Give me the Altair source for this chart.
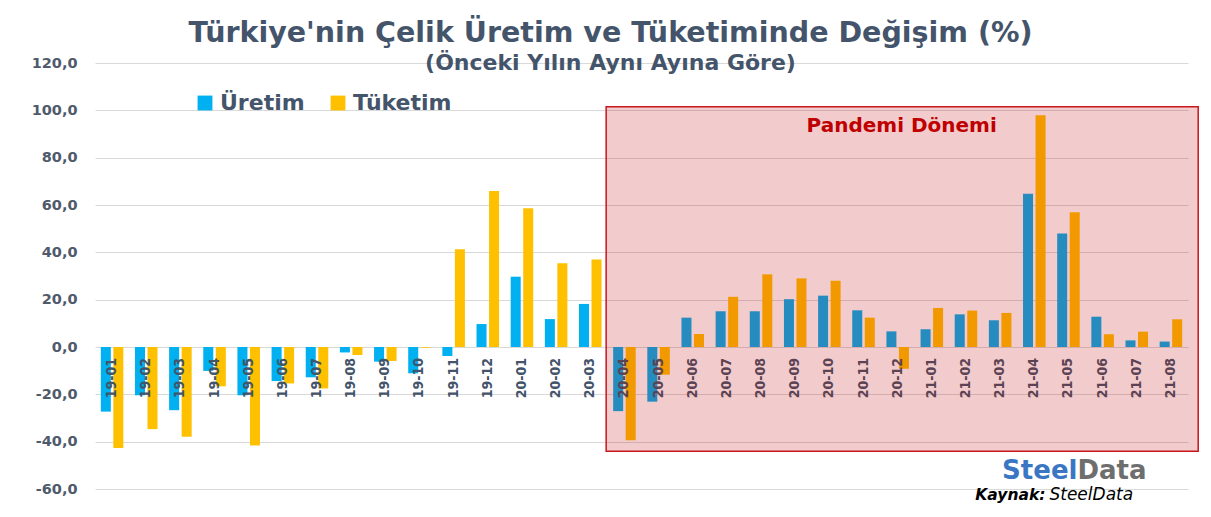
import altair as alt
import pandas as pd

months = ["19-01", "19-02", "19-03", "19-04", "19-05", "19-06", "19-07", "19-08",
          "19-09", "19-10", "19-11", "19-12", "20-01", "20-02", "20-03", "20-04",
          "20-05", "20-06", "20-07", "20-08", "20-09", "20-10", "20-11", "20-12",
          "21-01", "21-02", "21-03", "21-04", "21-05", "21-06", "21-07", "21-08"]
uretim = [-27.3, -20.4, -26.7, -10.1, -20.4, -14.4, -12.8, -2.3, -6.2, -11.1, -3.8, 9.7,
          29.7, 11.8, 18.2, -27.1, -23.1, 12.4, 15.1, 15.1, 20.2, 21.7, 15.5, 6.6,
          7.5, 13.8, 11.3, 64.8, 48.0, 12.8, 2.8, 2.3]
tuketim = [-42.7, -34.7, -37.9, -16.6, -41.6, -15.4, -17.5, -3.4, -5.9, -0.3, 41.3, 65.9,
           58.6, 35.4, 37.0, -39.4, -11.7, 5.5, 21.2, 30.7, 29.0, 28.0, 12.4, -9.2,
           16.5, 15.4, 14.4, 97.9, 56.9, 5.4, 6.5, 11.7]
series = ["Üretim", "Tüketim"]
colors = ["#00B0F0", "#FFC000"]
y_ticks = [-60, -40, -20, 0, 20, 40, 60, 80, 100, 120]

rows = []
for m, u, t in zip(months, uretim, tuketim):
    rows.append({"ay": m, "seri": series[0], "deger": u})
    rows.append({"ay": m, "seri": series[1], "deger": t})
df = pd.DataFrame(rows)
lab_df = pd.DataFrame({"ay": months, "zero": [0] * len(months)})

xscale = alt.Scale(domain=months, paddingInner=0.34, paddingOuter=0.17)
yscale = alt.Scale(domain=[-60, 120], nice=False, zero=False)

TEXT_COL = "#44546A"

bars = alt.Chart(df).mark_bar().encode(
    x=alt.X("ay:N", scale=xscale, axis=None, sort=months),
    xOffset=alt.XOffset("seri:N", sort=series, scale=alt.Scale(domain=series, paddingInner=0.2)),
    y=alt.Y("deger:Q", scale=yscale,
            axis=alt.Axis(values=y_ticks, title=None, grid=True, gridColor="#D9D9D9",
                          gridWidth=1, domain=False, ticks=False, labelPadding=18,
                          labelExpr="replace(replace(format(datum.value, '.1f'), '.', ','), '\u2212', '-')",
                          labelFont="DejaVu Sans", labelFontWeight="bold",
                          labelFontSize=14.5, labelColor="#4F5A6B")),
    color=alt.Color("seri:N", sort=series,
                    scale=alt.Scale(domain=series, range=colors),
                    legend=alt.Legend(title=None, orient="none", legendX=99, legendY=29,
                                      direction="horizontal", symbolType="square",
                                      symbolSize=220, symbolStrokeWidth=0,
                                      labelFont="DejaVu Sans", labelFontWeight="bold",
                                      labelFontSize=22, labelColor=TEXT_COL,
                                      labelOffset=4, columnPadding=22)),
)

labels = alt.Chart(lab_df).mark_text(
    angle=270, align="right", baseline="middle", dx=-11,
    font="DejaVu Sans Condensed", fontWeight="bold", fontSize=14, color=TEXT_COL
).encode(
    x=alt.X("ay:N", scale=xscale, sort=months),
    y=alt.Y("zero:Q", scale=yscale),
    text="ay:N",
)

region_df = pd.DataFrame({"start": ["20-04"], "end": ["21-08"], "top": [101.5], "bottom": [-44.0]})
region = alt.Chart(region_df).mark_rect(
    fill="#C00000", fillOpacity=0.2, stroke="#C8161D", strokeWidth=1.5,
    xOffset=-7, x2Offset=16
).encode(
    x=alt.X("start:N", scale=xscale, bandPosition=0),
    x2=alt.X2("end:N", bandPosition=1),
    y=alt.Y("top:Q", scale=yscale),
    y2="bottom:Q",
)

pand_df = pd.DataFrame({"ay": ["20-12"], "v": [93.5], "t": ["Pandemi Dönemi"]})
pand = alt.Chart(pand_df).mark_text(
    font="DejaVu Sans", fontWeight="bold", fontSize=20, color="#C00000", dx=4,
    baseline="middle"
).encode(x=alt.X("ay:N", scale=xscale), y=alt.Y("v:Q", scale=yscale), text="t:N")

logo_df = pd.DataFrame({"ay": ["21-05"], "v": [-52.3]})
steel = alt.Chart(logo_df).mark_text(
    text="Steel", font="DejaVu Sans", fontWeight="bold", fontSize=26,
    color="#3A76C4", align="right", baseline="middle", dx=9
).encode(x=alt.X("ay:N", scale=xscale), y=alt.Y("v:Q", scale=yscale))
data_t = alt.Chart(logo_df).mark_text(
    text="Data", font="DejaVu Sans", fontWeight="bold", fontSize=26,
    color="#6E6E6E", align="left", baseline="middle", dx=9
).encode(x=alt.X("ay:N", scale=xscale), y=alt.Y("v:Q", scale=yscale))

src_df = pd.DataFrame({"ay": ["21-05"], "v": [-62.6]})
kay1 = alt.Chart(src_df).mark_text(
    text="Kaynak:", font="DejaVu Sans", fontWeight="bold", fontStyle="italic",
    fontSize=15.5, color="#000000", align="right", baseline="middle", dx=-23
).encode(x=alt.X("ay:N", scale=xscale), y=alt.Y("v:Q", scale=yscale))
kay2 = alt.Chart(src_df).mark_text(
    text="SteelData", font="DejaVu Sans", fontStyle="italic",
    fontSize=17, color="#000000", align="left", baseline="middle", dx=-19
).encode(x=alt.X("ay:N", scale=xscale), y=alt.Y("v:Q", scale=yscale))

chart = alt.layer(bars, labels, region, pand, steel, data_t, kay1, kay2).properties(
    width=1093, height=426,
    title=alt.TitleParams(
        text="Türkiye'nin Çelik Üretim ve Tüketiminde Değişim (%)",
        subtitle="(Önceki Yılın Aynı Ayına Göre)",
        anchor="middle", font="DejaVu Sans", fontSize=28.5, fontWeight="bold", color=TEXT_COL,
        subtitleFont="DejaVu Sans", subtitleFontSize=22, subtitleFontWeight="bold",
        subtitleColor=TEXT_COL, subtitlePadding=5.5, offset=-18.5, dx=-31,
    ),
    autosize=alt.AutoSizeParams(type="none"),
    padding={"left": 87, "top": 55, "right": 15, "bottom": 16},
).configure_view(stroke=None)

chart.save("out.html", embed_options={"renderer": "svg", "actions": False})
